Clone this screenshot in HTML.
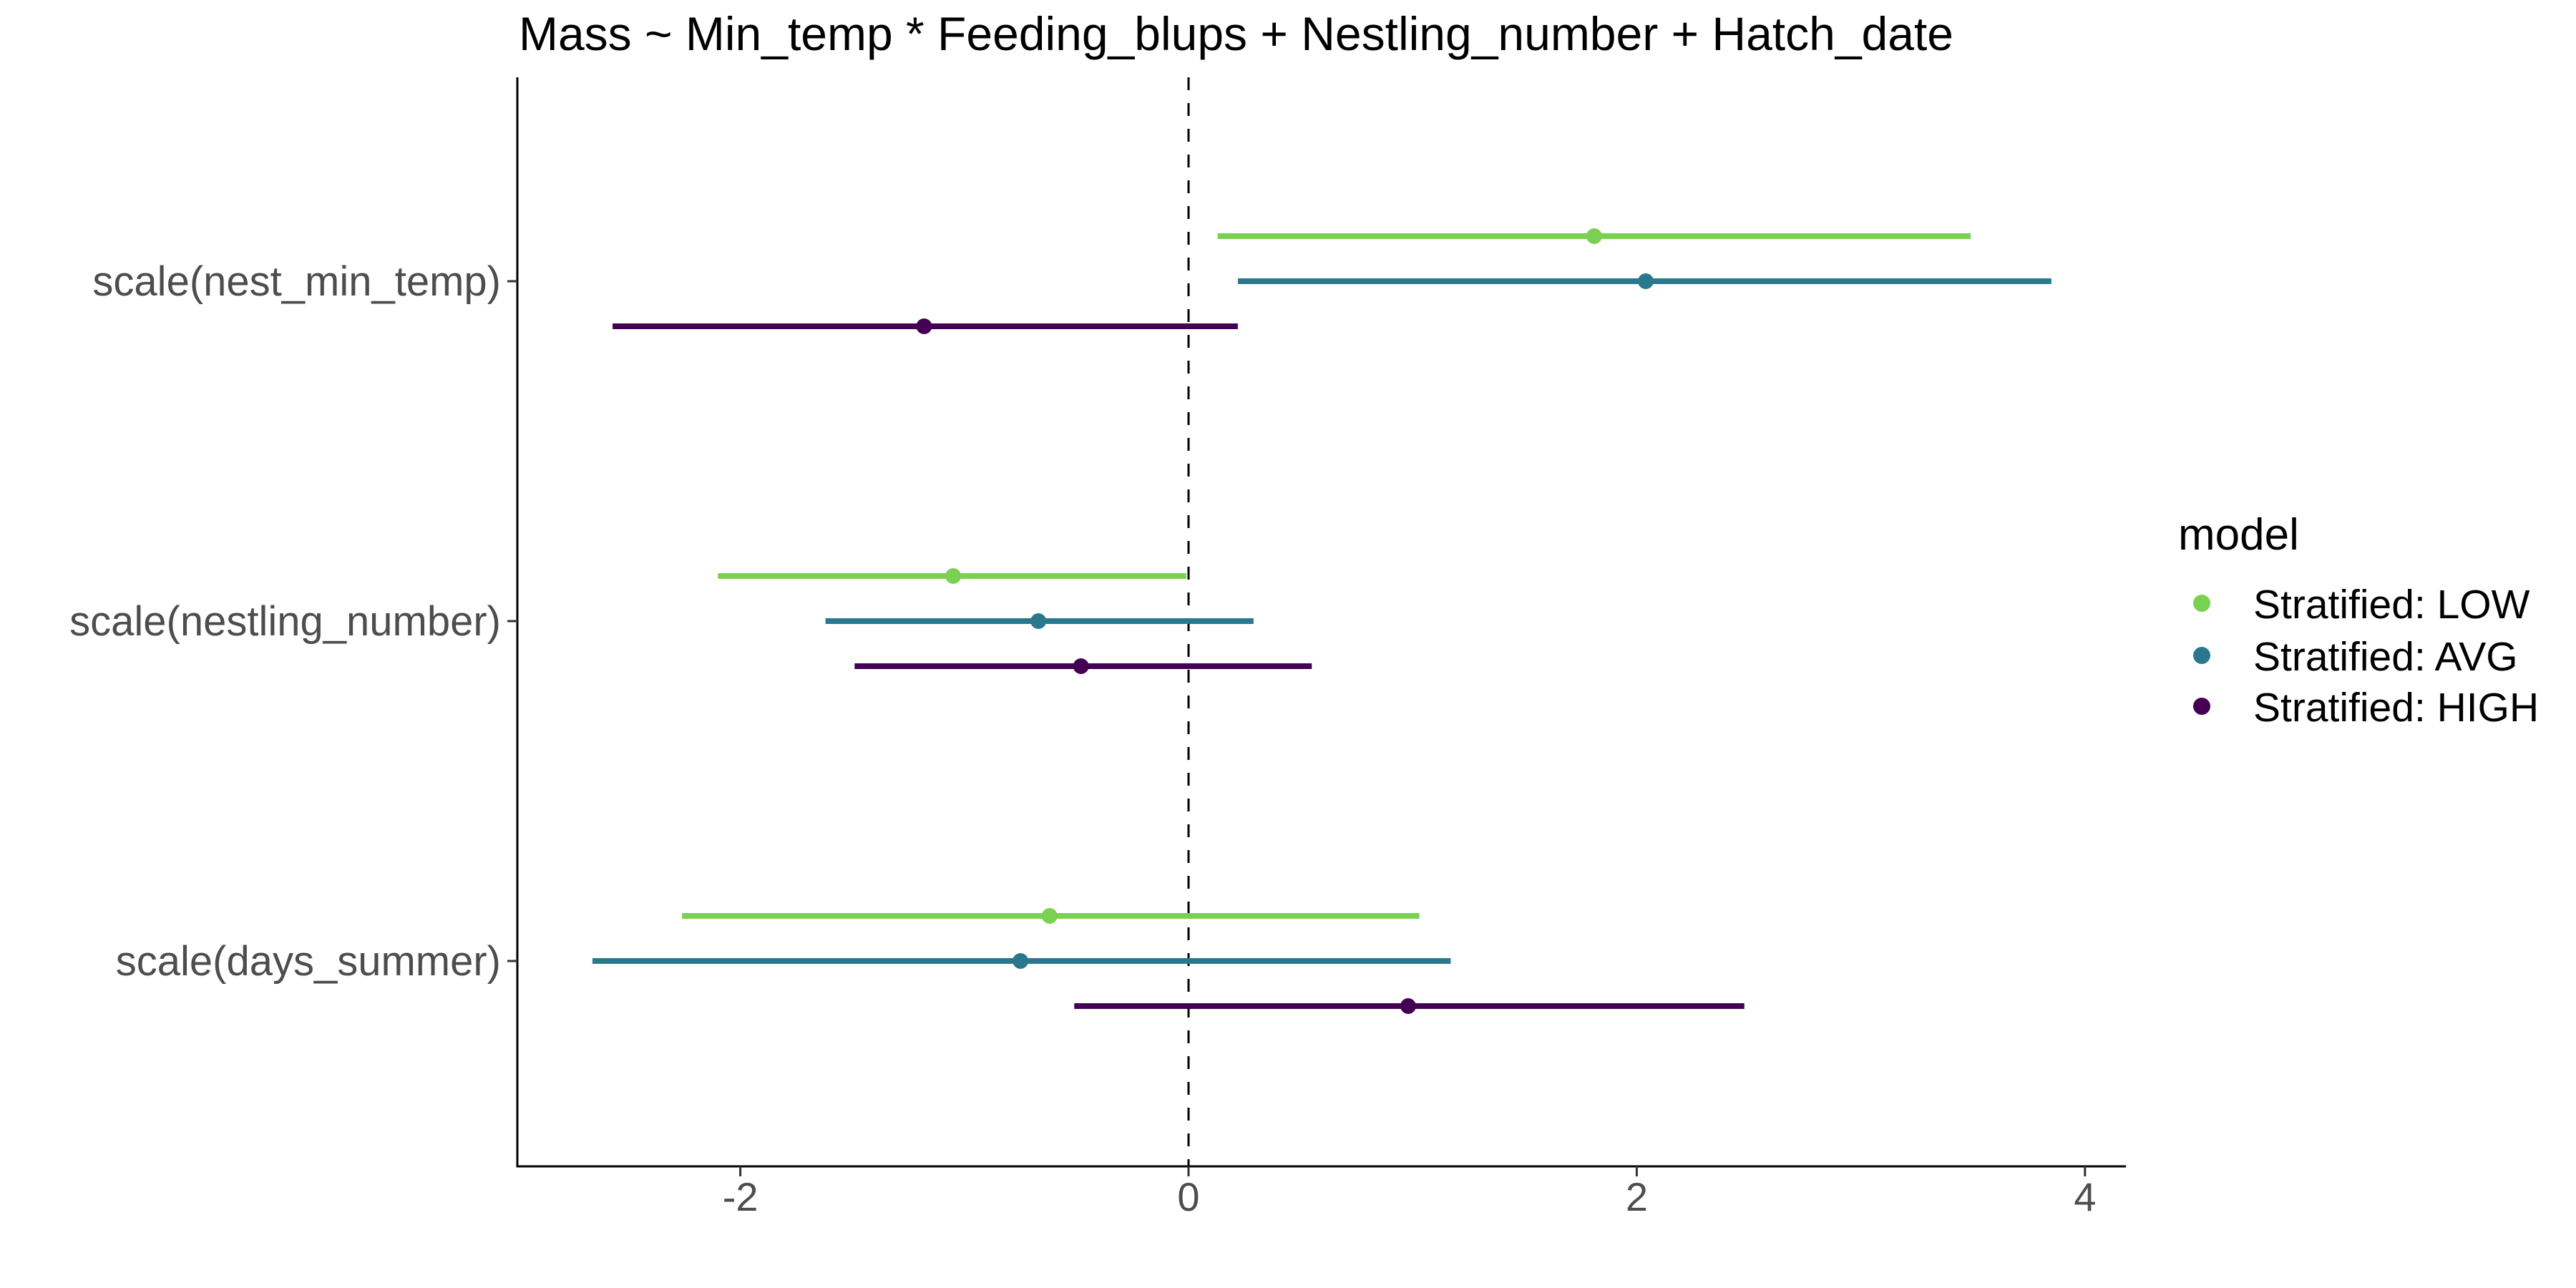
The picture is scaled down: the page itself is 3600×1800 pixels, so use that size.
<!DOCTYPE html>
<html><head><meta charset="utf-8"><style>
html,body{margin:0;padding:0;background:#fff}
svg{display:block;font-family:"Liberation Sans",Arial,sans-serif}
</style></head><body>
<svg id="chart" width="3600" height="1800" viewBox="0 0 3600 1800">
<text x="725" y="70" font-size="66" fill="#000">Mass ~ Min_temp * Feeding_blups + Nestling_number + Hatch_date</text>
<g id="plot"></g>
<g id="legend">
<text x="3044" y="768" font-size="62" fill="#000">model</text>
</g>
</svg>
<script>
const categories = ["scale(nest_min_temp)", "scale(nestling_number)", "scale(days_summer)"];
const seriesNames = ["Stratified: LOW", "Stratified: AVG", "Stratified: HIGH"];
const lowEst = [1.81, -1.05, -0.62];
const lowLo = [0.13, -2.10, -2.26];
const lowHi = [3.49, -0.01, 1.03];
const avgEst = [2.04, -0.67, -0.75];
const avgLo = [0.22, -1.62, -2.66];
const avgHi = [3.85, 0.29, 1.17];
const highEst = [-1.18, -0.48, 0.98];
const highLo = [-2.57, -1.49, -0.51];
const highHi = [0.22, 0.55, 2.48];
const xTicks = [-2, 0, 2, 4];

const NS = "http://www.w3.org/2000/svg";
const colors = ["#7AD151", "#2A788E", "#440154"];
const plot = document.getElementById("plot");
const legend = document.getElementById("legend");
const L = 723, R = 2971, T = 108, B = 1630;
const x0 = 1661, unit = 313.2;
function xs(v){ return x0 + v*unit; }
function yc(i){ return 393 + i*475; }
const offsets = [-63, 0, 63];
function mk(tag, attrs, parent){
  const e = document.createElementNS(NS, tag);
  for (const k in attrs) e.setAttribute(k, attrs[k]);
  parent.appendChild(e); return e;
}
let ax = mk("line", {x1:L, y1:T, x2:L, y2:B+1, stroke:"#000", "stroke-width":3}, plot);


let axx = mk("line", {x1:L-1, y1:B, x2:R, y2:B, stroke:"#000", "stroke-width":3}, plot);


let z = mk("line", {x1:xs(0), y1:T, x2:xs(0), y2:B, stroke:"#000", "stroke-width":3, "stroke-dasharray":"18,18"}, plot);


xTicks.forEach(t => {
  const tk = mk("line", {x1:xs(t), y1:B, x2:xs(t), y2:B+14, stroke:"#333", "stroke-width":3}, plot);
  
  
  const lb = mk("text", {x:xs(t), y:1692, "font-size":56, fill:"#4D4D4D", "text-anchor":"middle"}, plot);
  lb.textContent = t < 0 ? "-" + Math.abs(t) : String(t);
  
  
});
categories.forEach((c, i) => {
  const tk = mk("line", {x1:L-14, y1:yc(i), x2:L, y2:yc(i), stroke:"#333", "stroke-width":3}, plot);
  
  
  const lb = mk("text", {x:700, y:yc(i)+20, "font-size":58, fill:"#4D4D4D", "text-anchor":"end"}, plot);
  lb.textContent = c;
  
  
});
const est = [lowEst, avgEst, highEst], lo = [lowLo, avgLo, highLo], hi = [lowHi, avgHi, highHi];
for (let s = 0; s < 3; s++) {
  categories.forEach((c, i) => {
    const y = yc(i) + offsets[s];
    const ln = mk("line", {x1:xs(lo[s][i]), y1:y, x2:xs(hi[s][i]), y2:y, stroke:colors[s], "stroke-width":8}, plot);
    
    
    const pt = mk("circle", {cx:xs(est[s][i]), cy:y, r:11, fill:colors[s]}, plot);
    
    
  });
  const ly = [843, 916, 987][s];
  const d = mk("circle", {cx:3077, cy:ly, r:12, fill:colors[s]}, legend);
  
  
  const t = mk("text", {x:3149, y:ly+21, "font-size":57, fill:"#000"}, legend);
  t.textContent = seriesNames[s];
  
  
}
</script>
</body></html>
